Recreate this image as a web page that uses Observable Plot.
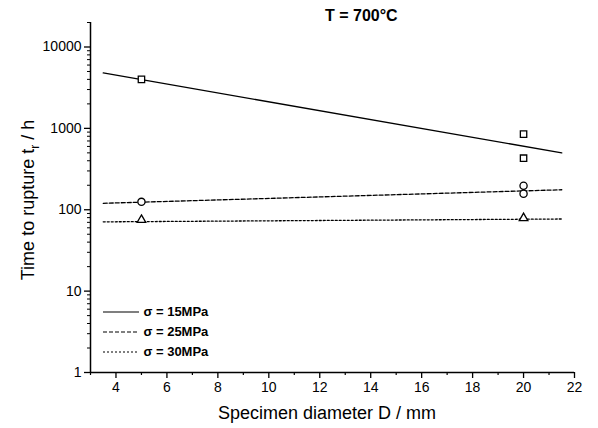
<!DOCTYPE html>
<html><head><meta charset="utf-8">
<script src="https://cdn.jsdelivr.net/npm/d3@7"></script>
<script src="https://cdn.jsdelivr.net/npm/@observablehq/plot@0.6"></script>
<style>
body{margin:0;background:#fff;font-family:"Liberation Sans",Arial,sans-serif;}
#wrap{position:relative;width:598px;height:428px;}
.abs{position:absolute;color:#000;white-space:nowrap;}
</style></head>
<body><div id="wrap"></div>
<script>
const title = "T = 700°C";
const xLabel = "Specimen diameter D / mm";
const xDomain = [3, 22];
const yDomain = [1, 20000];
const xTicks = [4, 6, 8, 10, 12, 14, 16, 18, 20, 22];
const xMinor = [3, 5, 7, 9, 11, 13, 15, 17, 19, 21];
const yTicks = [1, 10, 100, 1000, 10000];
const seriesNames = ["σ = 15MPa", "σ = 25MPa", "σ = 30MPa"];
const dashes = ["none", "4,2", "2,2"];
const symbols = ["square", "circle", "triangle"];
const symSize = [3.6, 3.6, 3.2];
// fitted lines (endpoints)
const lineX = [3.5, 21.5];
const line15 = [4800, 500];
const line25 = [120, 176];
const line30 = [71, 77];
// measured points
const pts15x = [5, 20, 20];
const pts15y = [4000, 850, 430];
const pts25x = [5, 20, 20];
const pts25y = [125, 197, 157];
const pts30x = [5, 20];
const pts30y = [75, 79];

const yMinor = [];
for (let e = 0; e < 5; e++) for (let k = 2; k <= 9; k++) { const v = k * 10 ** e; if (v <= 20000) yMinor.push(v); }
yMinor.push(20000);

const lines = [line15, line25, line30].flatMap((ys, i) => ys.map((y, j) => ({x: lineX[j], y, s: i})));
const pts = [[pts15x, pts15y], [pts25x, pts25y], [pts30x, pts30y]]
  .flatMap(([xs, ys], i) => xs.map((x, j) => ({x, y: ys[j], s: i})));

const chart = Plot.plot({
  width: 598, height: 428,
  marginLeft: 90, marginRight: 24, marginTop: 22, marginBottom: 56,
  style: {fontFamily: "Liberation Sans, Arial, sans-serif", fontSize: "14px", color: "#000", background: "#fff"},
  x: {domain: xDomain},
  y: {type: "log", domain: yDomain},
  marks: [
    Plot.axisX({ticks: xTicks, tickSize: 6, tickPadding: 4, label: null, tickFormat: d => d, strokeWidth: 1.3}),
    Plot.axisX({ticks: xMinor, tickSize: 3, text: null, label: null, strokeWidth: 1.2}),
    Plot.axisY({ticks: yTicks, tickSize: 6, tickPadding: 3, label: null, tickFormat: d => String(d), strokeWidth: 1.3}),
    Plot.axisY({ticks: yMinor, tickSize: 3, text: null, label: null, strokeWidth: 1}),
    Plot.ruleX([xDomain[0]], {strokeWidth: 1.5}),
    Plot.ruleY([yDomain[0]], {strokeWidth: 1.5}),
    ...[0, 1, 2].map(i => Plot.line(lines.filter(d => d.s === i), {x: "x", y: "y", stroke: "#000", strokeWidth: 1.3, strokeDasharray: dashes[i]})),
    ...[0, 1, 2].map(i => Plot.dot(pts.filter(d => d.s === i), {x: "x", y: "y", symbol: symbols[i], r: symSize[i], stroke: "#000", fill: "#fff", strokeWidth: 1.3}))
  ]
});
const wrap = document.getElementById("wrap");
chart.style.position = "absolute"; chart.style.left = "0"; chart.style.top = "0";
wrap.appendChild(chart);

function addDiv(html, css) { const d = document.createElement("div"); d.className = "abs"; d.innerHTML = html; Object.assign(d.style, css); wrap.appendChild(d); return d; }
addDiv(title, {left: "325px", top: "7px", fontSize: "16px", fontWeight: "bold"});
addDiv(xLabel, {left: "218px", top: "403px", fontSize: "18px"});
addDiv("Time to rupture t<sub style='font-size:12px'>r</sub> / h", {left: "30px", top: "200px", fontSize: "18px", transform: "translate(-50%,-50%) rotate(-90deg)"});

// legend
seriesNames.forEach((name, i) => {
  const top = 302 + i * 20;
  addDiv(`<svg width="36" height="16" style="vertical-align:middle"><line x1="0" x2="36" y1="8" y2="8" stroke="#000" stroke-width="1.2" stroke-dasharray="${dashes[i]}"/></svg> <span style="font-weight:bold;font-size:13px;vertical-align:middle">${name}</span>`, {left: "103px", top: top + "px"});
});
</script></body></html>
